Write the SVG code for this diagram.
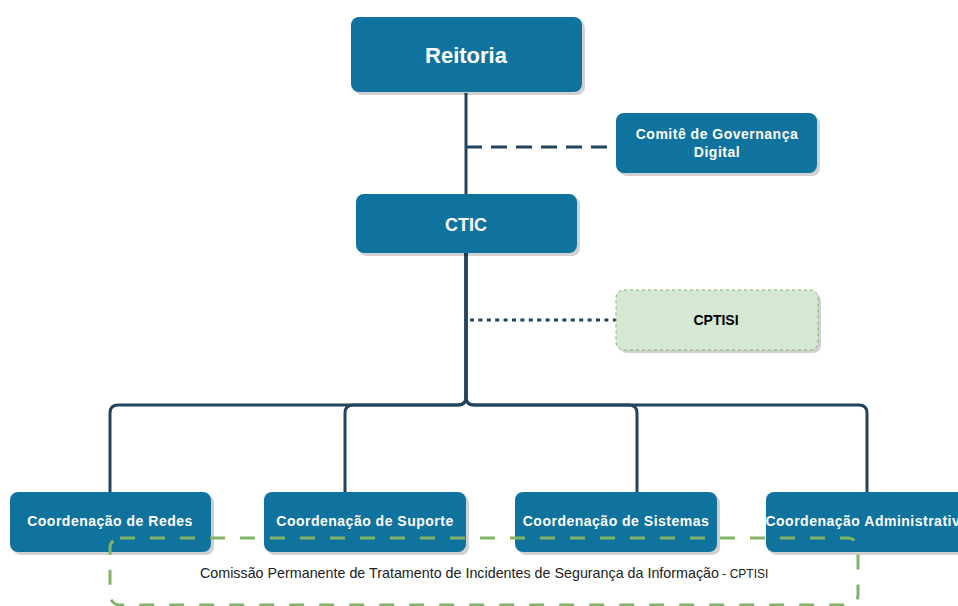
<svg xmlns="http://www.w3.org/2000/svg" width="958" height="606" viewBox="0 0 958 606">
<style>
.box{fill:#10739e;}
.shadow{fill:#000;opacity:0.18;}
.wt{fill:#fff;font-family:"Liberation Sans",Arial,sans-serif;font-weight:bold;text-anchor:middle;}
.sm{font-size:14px;letter-spacing:0.5px;}
.edge{fill:none;stroke:#23445d;stroke-width:3;}
</style>
<rect width="958" height="606" fill="#fff"/>
<g id="connectors">
  <path class="edge" d="M466 93 V397 Q466 405 458 405 H118 Q110 405 110 413 V492"/>
  <path class="edge" d="M466 253 V397 Q466 405 458 405 H353 Q345 405 345 413 V492"/>
  <path class="edge" d="M466 253 V397 Q466 405 474 405 H629 Q637 405 637 413 V492"/>
  <path class="edge" d="M466 253 V397 Q466 405 474 405 H859 Q867 405 867 413 V492"/>
  <path class="edge" d="M466 147 H616" stroke-dasharray="16 9"/>
  <path class="edge" d="M470 320 H616" stroke-dasharray="4 4.4"/>
</g>
<g id="reitoria">
  <rect class="shadow" x="354" y="20" width="231" height="75" rx="8"/>
  <rect class="box" x="351" y="17" width="231" height="75" rx="8"/>
  <text class="wt" x="466" y="63" font-size="22">Reitoria</text>
</g>
<g id="comite">
  <rect class="shadow" x="619" y="116" width="201" height="60" rx="8"/>
  <rect class="box" x="616" y="113" width="201" height="60" rx="8"/>
  <text class="wt sm" x="717" y="139">Comitê de Governança</text>
  <text class="wt sm" x="717" y="157">Digital</text>
</g>
<g id="ctic">
  <rect class="shadow" x="359" y="197" width="221" height="59" rx="8"/>
  <rect class="box" x="356" y="194" width="221" height="59" rx="8"/>
  <text class="wt" x="466" y="231" font-size="18">CTIC</text>
</g>
<g id="cptisi">
  <rect class="shadow" x="619" y="293" width="202" height="60" rx="8"/>
  <rect x="616" y="290" width="202" height="60" rx="8" fill="#d5e8d4" stroke="#82b366" stroke-width="1" stroke-dasharray="3 3"/>
  <text x="716" y="325" font-family="Liberation Sans,Arial,sans-serif" font-weight="bold" font-size="14" text-anchor="middle" fill="#000">CPTISI</text>
</g>
<g id="redes">
  <rect class="shadow" x="13" y="495" width="201" height="60" rx="8"/>
  <rect class="box" x="10" y="492" width="201" height="60" rx="8"/>
  <text class="wt sm" x="110" y="526">Coordenação de Redes</text>
</g>
<g id="suporte">
  <rect class="shadow" x="267" y="495" width="202" height="60" rx="8"/>
  <rect class="box" x="264" y="492" width="202" height="60" rx="8"/>
  <text class="wt sm" x="365" y="526">Coordenação de Suporte</text>
</g>
<g id="sistemas">
  <rect class="shadow" x="518" y="495" width="202" height="60" rx="8"/>
  <rect class="box" x="515" y="492" width="202" height="60" rx="8"/>
  <text class="wt sm" x="616" y="526">Coordenação de Sistemas</text>
</g>
<g id="administrativa">
  <rect class="shadow" x="769" y="495" width="202" height="60" rx="8"/>
  <rect class="box" x="766" y="492" width="202" height="60" rx="8"/>
  <text class="wt sm" x="867" y="526">Coordenação Administrativa</text>
</g>
<g id="comissao">
  <rect x="110" y="538" width="748" height="67" rx="10" fill="none" stroke="#82b366" stroke-width="3" stroke-dasharray="15 15"/>
  <text x="200" y="578" font-family="Liberation Sans,Arial,sans-serif" font-size="14.3" fill="#222">Comissão Permanente de Tratamento de Incidentes de Segurança da Informação<tspan font-size="12"> - CPTISI</tspan></text>
</g>
</svg>
